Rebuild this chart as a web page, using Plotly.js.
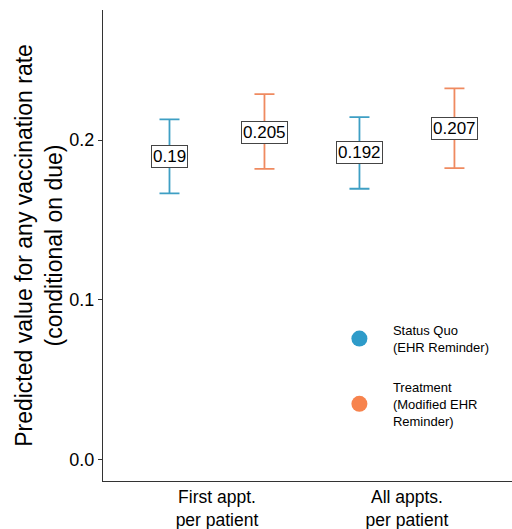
<!DOCTYPE html>
<html>
<head>
<meta charset="utf-8">
<script src="https://cdn.plot.ly/plotly-3.0.1.min.js"></script>
<style>html,body{margin:0;padding:0;background:#fff;}#chart{width:512px;height:529px;}</style>
</head>
<body>
<div id="chart"></div>
<script>
// Data
const categories = ["First appt.<br>per patient", "All appts.<br>per patient"];
const groups = ["Status Quo<br>(EHR Reminder)", "Treatment<br>(Modified EHR<br>Reminder)"];
const statusQuoMean = [0.190, 0.192];
const statusQuoLow  = [0.1666, 0.1695];
const statusQuoHigh = [0.2130, 0.2144];
const treatmentMean = [0.205, 0.207];
const treatmentLow  = [0.1820, 0.1824];
const treatmentHigh = [0.2288, 0.2324];
const labelStatusQuo = ["0.19", "0.192"];
const labelTreatment = ["0.205", "0.207"];

const catPos = categories.map((c, i) => i + 1);
const dodge = 0.25;
const xSQ = catPos.map(p => p - dodge);
const xTR = catPos.map(p => p + dodge);

const blue = "#2E9BC9", orange = "#F7834D";
const blueBar = "#3E9FC4", orangeBar = "#EF8A60";

function errTrace(x, mean, low, high, col) {
  return {
    type: "scatter", mode: "markers", x: x, y: mean,
    marker: {size: 1, opacity: 0},
    error_y: {type: "data", symmetric: false,
      array: high.map((h, i) => h - mean[i]),
      arrayminus: mean.map((m, i) => m - low[i]),
      color: col, thickness: 1.8, width: 10},
    showlegend: false, hoverinfo: "skip"
  };
}
function legTrace(name, col, grp) {
  return {type: "scatter", mode: "markers", x: [null], y: [null], name: name,
    legendgroup: grp, marker: {size: 20, color: col}, showlegend: true};
}

const traces = [
  errTrace(xSQ, statusQuoMean, statusQuoLow, statusQuoHigh, blueBar),
  errTrace(xTR, treatmentMean, treatmentLow, treatmentHigh, orangeBar),
  legTrace(groups[0], blue, "sq"),
  legTrace(groups[1], orange, "tr")
];

const annotations = [];
function addLabels(xs, ys, labels) {
  xs.forEach((x, i) => annotations.push({
    x: x, y: ys[i], xref: "x", yref: "y", text: labels[i], showarrow: false,
    font: {size: 17, color: "#000", family: "Liberation Sans, Arial, sans-serif"},
    bgcolor: "#fff", bordercolor: "#444", borderwidth: 1, borderpad: 1,
    xanchor: "center", yanchor: "middle"
  }));
}
addLabels(xSQ, statusQuoMean, labelStatusQuo);
addLabels(xTR, treatmentMean, labelTreatment);

const layout = {
  width: 512, height: 529,
  margin: {l: 103, r: 0, t: 10, b: 48},
  paper_bgcolor: "#fff", plot_bgcolor: "#fff",
  font: {family: "Liberation Sans, Arial, sans-serif", color: "#000"},
  xaxis: {
    range: [0.4, 2.553], tickvals: catPos, ticktext: categories,
    showgrid: false, zeroline: false, showline: true, linecolor: "#333", linewidth: 1,
    ticks: "", tickfont: {size: 17.5, color: "#000"}, fixedrange: true
  },
  yaxis: {
    range: [-0.0136, 0.2815], tickvals: [0, 0.1, 0.2], ticktext: ["0.0", "0.1", "0.2"],
    showgrid: false, zeroline: false, showline: true, linecolor: "#333", linewidth: 1,
    ticks: "outside", ticklen: 4, tickcolor: "#333", tickfont: {size: 18, color: "#000"},
    title: {text: "Predicted value for any vaccination rate<br>(conditional on due)",
      font: {size: 23, color: "#000"}, standoff: 0}
  },
  legend: {x: 0.545, y: 0.352, xanchor: "left", yanchor: "top", itemwidth: 57,
    font: {size: 13, color: "#000"}, bgcolor: "rgba(0,0,0,0)", tracegroupgap: 20},
  annotations: annotations,
  showlegend: true
};

Plotly.newPlot("chart", traces, layout, {displayModeBar: false, staticPlot: true});
</script>
</body>
</html>
